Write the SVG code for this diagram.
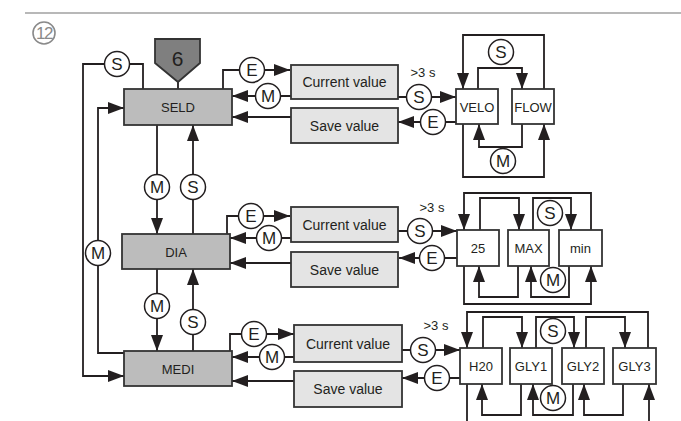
<svg xmlns="http://www.w3.org/2000/svg" width="681" height="421" viewBox="0 0 681 421">
<defs>
<marker id="ah" markerUnits="userSpaceOnUse" markerWidth="16" markerHeight="12" refX="16" refY="6" orient="auto">
<path d="M0,0 L16,6 L0,12 z" fill="#231f20"/>
</marker>
<style>
.c{fill:none;stroke:#231f20;stroke-width:1.8}
.a{marker-end:url(#ah)}
.main{fill:#bcbcbc;stroke:#333;stroke-width:1.8}
.val{fill:#e4e4e4;stroke:#333;stroke-width:1.8}
.opt{fill:#fff;stroke:#333;stroke-width:1.8}
.lc{fill:#fff;stroke:#231f20;stroke-width:1.5}
text{font-family:"Liberation Sans",Arial,sans-serif;fill:#231f20;text-anchor:middle;dominant-baseline:central}
.t13{font-size:13px}
.t14{font-size:14px}
.tl{font-size:17px}
.t3s{font-size:13px}
</style>
</defs>
<line x1="25" y1="13" x2="681" y2="13" stroke="#a0a0a0" stroke-width="1.5"/>
<g id="fig-number">
<circle cx="44" cy="33" r="11" fill="none" stroke="#8a8a8a" stroke-width="1.6"/>
<text x="44" y="33.5" style="font-size:17px;fill:#8a8a8a;letter-spacing:-1.5px">12</text>
</g>
<g id="connectors">
<line class="c" x1="178" y1="82" x2="178" y2="89"/>
<polyline class="c a" points="143,89 143,64 83,64 83,376 124,376"/>
<polyline class="c a" points="124,353 98,353 98,108 124,108"/>
<polyline class="c a" points="157,125 157,234"/>
<polyline class="c a" points="193,234 193,125"/>
<polyline class="c a" points="157,269 157,351"/>
<polyline class="c a" points="193,351 193,269"/>
<polyline class="c a" points="223,89 223,70 290,70"/>
<polyline class="c a" points="291,96 232,96"/>
<polyline class="c a" points="291,117 232,117"/>
<polyline class="c a" points="398,97 456,97"/>
<polyline class="c a" points="456,122 398,122"/>
<polyline class="c a" points="227,234 227,216 290,216"/>
<polyline class="c a" points="291,238 230,238"/>
<polyline class="c a" points="291,263 230,263"/>
<polyline class="c a" points="398,231 457,231"/>
<polyline class="c a" points="457,258 399,258"/>
<polyline class="c a" points="230,351 230,334 294,334"/>
<polyline class="c a" points="294,357 232,357"/>
<polyline class="c a" points="294,381 232,381"/>
<polyline class="c a" points="402,350 460,350"/>
<polyline class="c a" points="460,378 402,378"/>
<polyline class="c a" points="544,89 544,35 463,35 463,89"/>
<polyline class="c a" points="478,89 478,68 522,68 522,89"/>
<polyline class="c a" points="522,124 522,147 479,147 479,124"/>
<polyline class="c a" points="463,124 463,177 544,177 544,124"/>
<polyline class="c a" points="591,230 591,193 464,193 464,230"/>
<polyline class="c a" points="480,230 480,198 519,198 519,230"/>
<polyline class="c a" points="533,230 533,198 571,198 571,230"/>
<polyline class="c a" points="518,266 518,297 479,297 479,266"/>
<polyline class="c a" points="569,266 569,297 531,297 531,266"/>
<polyline class="c a" points="464,266 464,304 591,304 591,266"/>
<polyline class="c a" points="648,348 648,312 467,312 467,348"/>
<polyline class="c a" points="483,348 483,317 522,317 522,348"/>
<polyline class="c a" points="536,348 536,317 574,317 574,348"/>
<polyline class="c a" points="586,348 586,317 625,317 625,348"/>
<polyline class="c a" points="521,384 521,415 482,415 482,384"/>
<polyline class="c a" points="573,384 573,415 533,415 533,384"/>
<polyline class="c a" points="623,384 623,415 584,415 584,384"/>
<line class="c" x1="467" y1="384" x2="467" y2="423"/>
<polyline class="c a" points="649,423 649,384"/>
</g>
<g id="start-6">
<polygon points="155,39 200,39 200,63 178,82 155,63" fill="#7f7f7f" stroke="#333" stroke-width="1.8"/>
<text x="177.5" y="58" style="font-size:21px">6</text>
</g>
<g id="SELD"><rect class="main" x="124" y="89" width="108" height="36"/><text class="t13" x="178" y="107">SELD</text></g>
<g id="DIA"><rect class="main" x="122" y="234" width="108" height="35"/><text class="t13" x="176" y="252">DIA</text></g>
<g id="MEDI"><rect class="main" x="124" y="351" width="108" height="35"/><text class="t13" x="178" y="369">MEDI</text></g>
<g id="current1"><rect class="val" x="291" y="65" width="107" height="34"/><text class="t14" x="344.5" y="82">Current value</text></g>
<g id="save1"><rect class="val" x="291" y="108" width="107" height="35"/><text class="t14" x="344.5" y="126">Save value</text></g>
<g id="current2"><rect class="val" x="291" y="207" width="107" height="35"/><text class="t14" x="344.5" y="225">Current value</text></g>
<g id="save2"><rect class="val" x="291" y="252" width="107" height="35"/><text class="t14" x="344.5" y="270">Save value</text></g>
<g id="current3"><rect class="val" x="294" y="325" width="108" height="37"/><text class="t14" x="348" y="344">Current value</text></g>
<g id="save3"><rect class="val" x="294" y="371" width="108" height="36"/><text class="t14" x="348" y="389">Save value</text></g>
<g id="VELO"><rect class="opt" x="456" y="89" width="42" height="35"/><text class="t13" x="477" y="107">VELO</text></g>
<g id="FLOW"><rect class="opt" x="512" y="89" width="42" height="35"/><text class="t13" x="533" y="107">FLOW</text></g>
<g id="opt25"><rect class="opt" x="457" y="230" width="42" height="36"/><text class="t13" x="478" y="248">25</text></g>
<g id="MAX"><rect class="opt" x="508" y="230" width="41" height="36"/><text class="t13" x="528.5" y="248">MAX</text></g>
<g id="min"><rect class="opt" x="559" y="230" width="43" height="36"/><text class="t13" x="580.5" y="248">min</text></g>
<g id="H20"><rect class="opt" x="460" y="348" width="42" height="36"/><text class="t13" x="481" y="366">H20</text></g>
<g id="GLY1"><rect class="opt" x="510" y="348" width="42" height="36"/><text class="t13" x="531" y="366">GLY1</text></g>
<g id="GLY2"><rect class="opt" x="562" y="348" width="42" height="36"/><text class="t13" x="583" y="366">GLY2</text></g>
<g id="GLY3"><rect class="opt" x="613" y="348" width="43" height="36"/><text class="t13" x="634.5" y="366">GLY3</text></g>
<g id="labels">
<g><circle class="lc" cx="117" cy="64" r="12.5"/><text class="tl" x="117" y="64">S</text></g>
<g><circle class="lc" cx="98" cy="253" r="12.5"/><text class="tl" x="98" y="253">M</text></g>
<g><circle class="lc" cx="157" cy="187" r="12.5"/><text class="tl" x="157" y="187">M</text></g>
<g><circle class="lc" cx="193" cy="187" r="12.5"/><text class="tl" x="193" y="187">S</text></g>
<g><circle class="lc" cx="157" cy="306" r="12.5"/><text class="tl" x="157" y="306">M</text></g>
<g><circle class="lc" cx="193" cy="322" r="12.5"/><text class="tl" x="193" y="322">S</text></g>
<g><circle class="lc" cx="252" cy="70" r="12.5"/><text class="tl" x="252" y="70">E</text></g>
<g><circle class="lc" cx="268" cy="96" r="12.5"/><text class="tl" x="268" y="96">M</text></g>
<g><circle class="lc" cx="419" cy="97" r="12.5"/><text class="tl" x="419" y="97">S</text></g>
<g><circle class="lc" cx="433" cy="122" r="12.5"/><text class="tl" x="433" y="122">E</text></g>
<g><circle class="lc" cx="251" cy="216" r="12.5"/><text class="tl" x="251" y="216">E</text></g>
<g><circle class="lc" cx="269" cy="238" r="12.5"/><text class="tl" x="269" y="238">M</text></g>
<g><circle class="lc" cx="420" cy="231" r="12.5"/><text class="tl" x="420" y="231">S</text></g>
<g><circle class="lc" cx="432" cy="258" r="12.5"/><text class="tl" x="432" y="258">E</text></g>
<g><circle class="lc" cx="254" cy="334" r="12.5"/><text class="tl" x="254" y="334">E</text></g>
<g><circle class="lc" cx="272" cy="357" r="12.5"/><text class="tl" x="272" y="357">M</text></g>
<g><circle class="lc" cx="423" cy="350" r="12.5"/><text class="tl" x="423" y="350">S</text></g>
<g><circle class="lc" cx="437" cy="378" r="12.5"/><text class="tl" x="437" y="378">E</text></g>
<g><circle class="lc" cx="501" cy="52" r="12.5"/><text class="tl" x="501" y="52">S</text></g>
<g><circle class="lc" cx="503" cy="161" r="12.5"/><text class="tl" x="503" y="161">M</text></g>
<g><circle class="lc" cx="550" cy="213" r="12.5"/><text class="tl" x="550" y="213">S</text></g>
<g><circle class="lc" cx="553" cy="280" r="12.5"/><text class="tl" x="553" y="280">M</text></g>
<g><circle class="lc" cx="553" cy="331" r="12.5"/><text class="tl" x="553" y="331">S</text></g>
<g><circle class="lc" cx="553" cy="398" r="12.5"/><text class="tl" x="553" y="398">M</text></g>
<text class="t3s" x="423" y="72">&gt;3 s</text>
<text class="t3s" x="432" y="207">&gt;3 s</text>
<text class="t3s" x="436" y="325">&gt;3 s</text>
</g>
</svg>
